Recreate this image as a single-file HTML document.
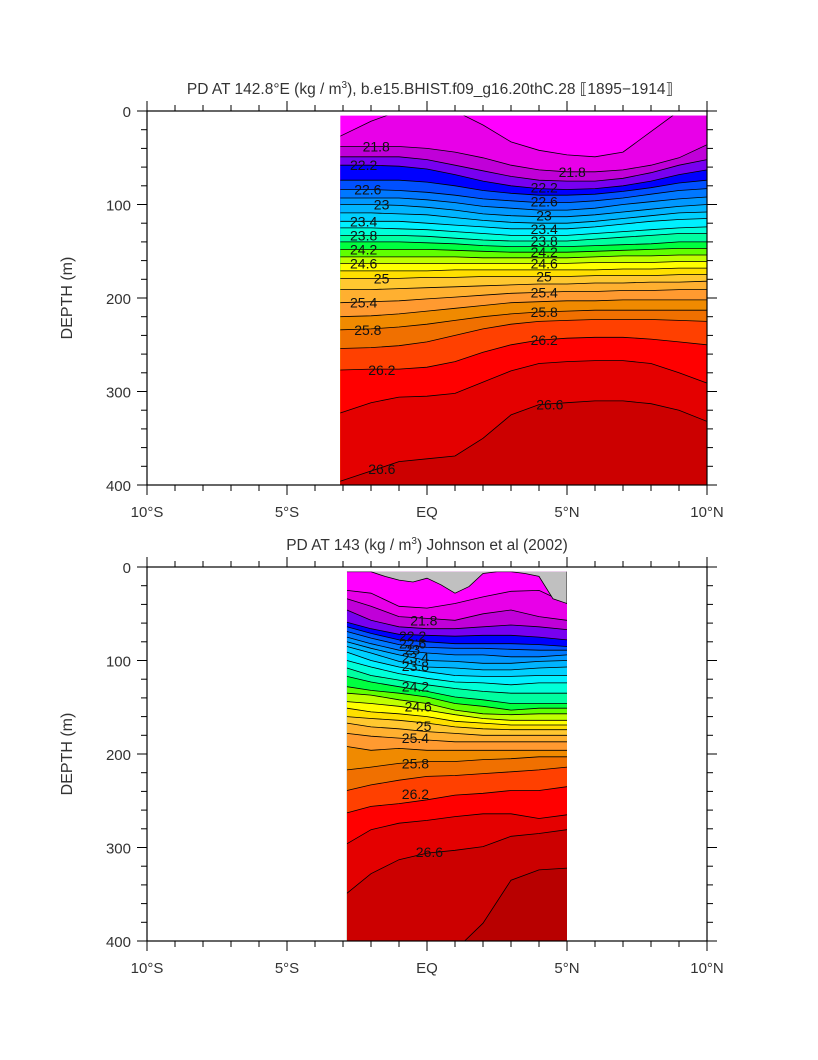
<!DOCTYPE html>
<html><head><meta charset="utf-8"><style>
body{margin:0;background:#fff;}
svg text{font-family:"Liberation Sans",sans-serif;}
</style></head><body>
<svg id="chart" width="818" height="1055" viewBox="0 0 818 1055" xmlns="http://www.w3.org/2000/svg">
<rect width="818" height="1055" fill="#fff"/>
</svg>
<script>
// ----- data -----
const levels = [21.6,21.8,22.0,22.2,22.4,22.6,22.8,23.0,23.2,23.4,23.6,23.8,24.0,24.2,24.4,24.6,24.8,25.0,25.2,25.4,25.6,25.8,26.0,26.2,26.4,26.6,26.8];
const bandColors = ["#ff00ff","#e800e8","#c000d8","#7800f0","#0000ff","#0050ff","#0078ff","#0098ff","#00b4ff","#00d0ff","#00f0ff","#00ffd8","#00ffa0","#00ff40","#60ff00","#c0ff00","#ffff00","#ffe000","#ffc830","#ffb030","#ff9a30","#f08a00","#f07000","#ff4000","#ff0000","#e40000","#cc0000","#b80000"];
const xTickLabels = ["10°S","5°S","EQ","5°N","10°N"];
const xTickValues = [-10,-5,0,5,10];
const yTickValues = [0,100,200,300,400];

const topLats = [-3.1,-2,-1,0,1,2,3,4,5,6,7,8,9,10];
const topDepths = [
 [27,11,0,0,0,15,33,42,47,49,44,22,0,0],
 [38,38,38,40,44,50,58,63,65,65,63,58,50,36],
 [49,49,49,52,58,64,70,74,75,75,72,66,58,52],
 [58,58,59,62,68,75,80,83,84,83,80,75,68,63],
 [74,74,74,76,80,85,88,90,90,89,86,82,77,74],
 [84,84,85,87,90,94,96,98,98,96,93,89,85,83],
 [93,93,93,95,98,102,104,106,106,104,100,97,94,92],
 [100,100,101,103,106,110,112,113,113,111,108,105,102,100],
 [109,109,110,111,114,117,119,120,120,118,115,112,109,108],
 [118,118,118,120,122,124,126,126,126,124,121,118,116,115],
 [125,125,126,127,129,131,133,133,133,131,129,127,125,124],
 [133,133,133,134,136,138,139,139,139,137,135,133,131,131],
 [140,140,140,141,142,144,145,145,145,144,143,142,140,140],
 [148,148,148,148,149,150,151,151,151,150,149,148,147,147],
 [156,156,156,156,156,157,157,157,157,156,155,155,154,154],
 [163,163,163,163,163,163,163,163,163,162,162,162,161,161],
 [171,171,171,171,170,170,170,170,170,170,169,169,168,168],
 [179,179,179,178,178,177,177,177,177,176,176,176,175,175],
 [191,191,190,189,188,187,186,185,185,184,184,183,183,182],
 [205,204,203,201,199,197,195,194,193,193,192,192,191,191],
 [220,219,217,214,211,208,205,204,203,203,202,202,202,202],
 [234,233,231,228,224,220,217,215,214,213,213,213,213,213],
 [254,253,251,247,240,233,228,225,224,223,223,223,224,225],
 [277,276,276,274,268,258,250,245,243,242,242,244,247,250],
 [323,312,306,305,302,290,278,270,268,267,267,270,280,291],
 [396,385,375,372,369,350,325,314,312,310,310,313,320,332],
 [420,420,420,420,420,420,420,420,420,420,420,420,420,420]
];
const topLabels = [["21.8",-2.3,38],["22.2",-2.75,58],["22.6",-2.6,84],["23",-1.9,100],["23.4",-2.75,118],["23.8",-2.75,133],["24.2",-2.75,148],["24.6",-2.75,163],["25",-1.9,179],["25.4",-2.75,205],["25.8",-2.6,234],["26.2",-2.1,277],["26.6",-2.1,383],
 ["21.8",4.7,65],["22.2",3.7,82],["22.6",3.7,97],["23",3.9,112],["23.4",3.7,126],["23.8",3.7,139],["24.2",3.7,151],["24.6",3.7,163],["25",3.9,177],["25.4",3.7,194],["25.8",3.7,215],["26.2",3.7,245],["26.6",3.9,314]];

const botLats = [-2.86,-2,-1,0,1,2,3,4,5];
const botDepths = [
 [25,28,42,44,39,32,26,25,39],
 [34,42,53,55,57,50,46,53,57],
 [46,57,64,66,66,64,62,64,67],
 [59,66,72,73,74,73,73,75,78],
 [64,71,78,80,82,82,82,83,85],
 [69,76,83,86,87,87,88,89,89],
 [75,82,89,92,94,94,96,96,94],
 [80,87,94,100,101,103,103,101,100],
 [85,92,101,107,108,110,110,108,107],
 [91,100,107,112,116,117,117,116,116],
 [100,107,114,119,123,124,126,124,124],
 [108,116,121,126,130,133,135,135,135],
 [117,123,128,133,139,142,146,146,146],
 [128,132,135,139,146,149,153,151,151],
 [135,137,142,146,153,157,158,157,157],
 [144,146,149,153,158,162,164,164,164],
 [151,155,157,160,165,167,169,169,169],
 [160,162,164,167,171,173,174,174,174],
 [167,171,173,176,178,180,180,180,180],
 [178,181,183,185,187,187,187,187,187],
 [192,196,194,196,196,196,196,196,196],
 [217,214,210,208,208,206,205,203,203],
 [239,233,228,224,223,221,219,217,214],
 [263,256,253,249,244,242,239,239,235],
 [296,281,274,271,267,264,264,269,265],
 [349,328,313,306,303,299,288,285,281],
 [420,420,420,420,410,381,335,324,322]
];
const botValidLats = [-2.86,-2.5,-2,-1.5,-1,-0.5,0,0.5,1,1.5,2,2.5,3,3.5,4,4.5,5];
const botValidTop = [5,5,5,10,14,16,12,19,28,21,7,5,5,7,10,34,39];
const botLabels = [["21.8",-0.6,57],["22.2",-1.0,74],["22.6",-1.0,82],["23",-0.8,88],["23.4",-0.9,97],["23.8",-0.9,106],["24.2",-0.9,128],["24.6",-0.8,149],["25",-0.4,170],["25.4",-0.9,183],["25.8",-0.9,210],["26.2",-0.9,243],["26.6",-0.4,305]];

// ----- drawing -----
const NS = "http://www.w3.org/2000/svg";
const svg = document.getElementById("chart");
function mk(tag, attrs, parent){const e=document.createElementNS(NS,tag);for(const k in attrs)e.setAttribute(k,attrs[k]);(parent||svg).appendChild(e);return e;}

function drawPanel(p){
  const x = lat => p.x0 + (lat+10)/20*(p.x1-p.x0);
  const y = d => p.y0 + d/400*(p.y1-p.y0);
  const g = mk("g",{});
  
  
  const clipId = p.name+"-clip";
  const defs = mk("defs",{},g);
  const cp = mk("clipPath",{id:clipId},defs);
  mk("rect",{x:x(p.lats[0]),y:y(5),width:x(p.lats[p.lats.length-1])-x(p.lats[0]),height:y(400)-y(5)},cp);
  const field = mk("g",{"clip-path":"url(#"+clipId+")"},g);
  
  
  mk("rect",{x:x(p.lats[0]),y:y(0),width:x(p.lats[p.lats.length-1])-x(p.lats[0]),height:y(400)-y(0),fill:bandColors[0]},field);
  p.depths.forEach((row,k)=>{
    let pts = row.map((d,i)=>x(p.lats[i]).toFixed(1)+","+y(d).toFixed(1));
    const poly = mk("polygon",{points:pts.join(" ")+" "+x(p.lats[p.lats.length-1])+","+(y(400)+20)+" "+x(p.lats[0])+","+(y(400)+20),fill:bandColors[k+1],stroke:"none"},field);
    
    
  });
  p.depths.forEach((row,k)=>{
    const ln = mk("polyline",{points:row.map((d,i)=>x(p.lats[i]).toFixed(1)+","+y(d).toFixed(1)).join(" "),fill:"none",stroke:"#000","stroke-width":0.8},field);
    
    
  });
  if(p.validTop){
    const pts = p.validLats.map((l,i)=>x(l).toFixed(1)+","+y(p.validTop[i]).toFixed(1));
    const gp = mk("polygon",{points:x(p.validLats[p.validLats.length-1])+","+y(0)+" "+x(p.validLats[0])+","+y(0)+" "+pts.join(" "),fill:"#c0c0c0",stroke:"#000","stroke-width":0.8},field);
    
    
  }
  p.labels.forEach(L=>{
    const t = mk("text",{x:x(L[1]),y:y(L[2])+5,"font-size":14,fill:"#111"},field);
    t.textContent=L[0];
    
    
  });
  // frame
  const fr = mk("rect",{x:p.x0,y:p.y0,width:p.x1-p.x0,height:p.y1-p.y0,fill:"none",stroke:"#000","stroke-width":1.2},g);
  
  
  // ticks
  for(let l=-10;l<=10;l++){
    const L = (l%5===0)?10:6;
    mk("line",{x1:x(l),x2:x(l),y1:p.y0,y2:p.y0-L,stroke:"#000","stroke-width":1},g);
    mk("line",{x1:x(l),x2:x(l),y1:p.y1,y2:p.y1+L,stroke:"#000","stroke-width":1},g);
  }
  for(let d=0;d<=400;d+=20){
    const L = (d%100===0)?10:6;
    mk("line",{x1:p.x0,x2:p.x0-L,y1:y(d),y2:y(d),stroke:"#000","stroke-width":1},g);
    mk("line",{x1:p.x1,x2:p.x1+L,y1:y(d),y2:y(d),stroke:"#000","stroke-width":1},g);
  }
  xTickValues.forEach((v,i)=>{
    const t = mk("text",{x:x(v),y:p.y1+32,"font-size":15,"text-anchor":"middle",fill:"#333"},g);
    t.textContent=xTickLabels[i];
    
    
  });
  yTickValues.forEach(v=>{
    const t = mk("text",{x:p.x0-16,y:y(v)+6,"font-size":15,"text-anchor":"end",fill:"#333"},g);
    t.textContent=String(v);
    
    
  });
  const yt = mk("text",{x:0,y:0,"font-size":16,"text-anchor":"middle",fill:"#333",transform:"translate(72,"+((p.y0+p.y1)/2)+") rotate(-90)"},g);
  yt.textContent="DEPTH (m)";
  
  
  const tt = mk("text",{x:p.titleX,y:p.y0-17,"font-size":15.5,"text-anchor":"middle",fill:"#333"},g);
  tt.innerHTML=p.title;
  
  
}

drawPanel({name:"model-panel",x0:147,x1:707,y0:111,y1:485,lats:topLats,depths:topDepths,labels:topLabels,titleX:430,
  title:'PD AT 142.8°E (kg / m<tspan dy="-6" font-size="10">3</tspan><tspan dy="6">), b.e15.BHIST.f09_g16.20thC.28 ⟦1895−1914⟧</tspan>'});
drawPanel({name:"obs-panel",x0:147,x1:707,y0:567,y1:941,lats:botLats,depths:botDepths,labels:botLabels,titleX:427,
  validLats:botValidLats,validTop:botValidTop,
  title:'PD AT 143 (kg / m<tspan dy="-6" font-size="10">3</tspan><tspan dy="6">) Johnson et al (2002)</tspan>'});
</script>
</body></html>
